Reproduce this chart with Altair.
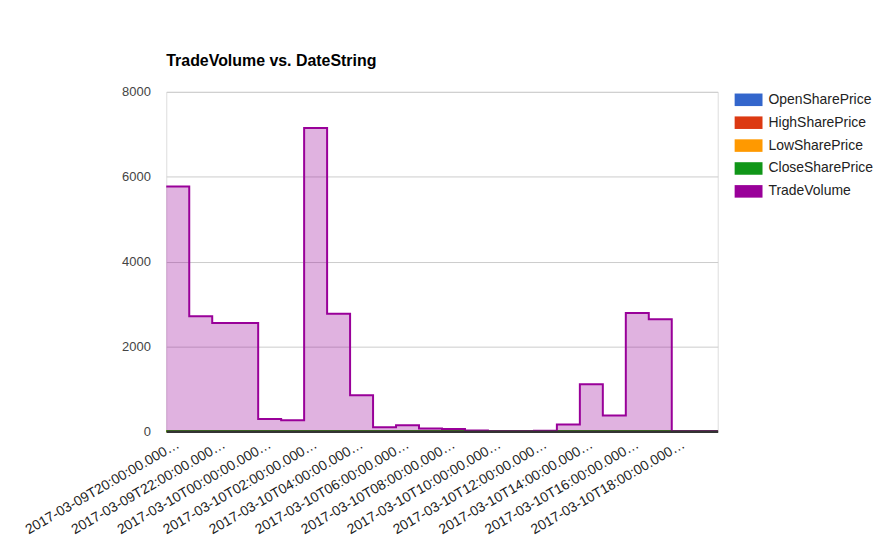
import altair as alt
import pandas as pd

dates = [
    "2017-03-09T20:00:00.000Z", "2017-03-09T21:00:00.000Z", "2017-03-09T22:00:00.000Z",
    "2017-03-09T23:00:00.000Z", "2017-03-10T00:00:00.000Z", "2017-03-10T01:00:00.000Z",
    "2017-03-10T02:00:00.000Z", "2017-03-10T03:00:00.000Z", "2017-03-10T04:00:00.000Z",
    "2017-03-10T05:00:00.000Z", "2017-03-10T06:00:00.000Z", "2017-03-10T07:00:00.000Z",
    "2017-03-10T08:00:00.000Z", "2017-03-10T09:00:00.000Z", "2017-03-10T10:00:00.000Z",
    "2017-03-10T11:00:00.000Z", "2017-03-10T12:00:00.000Z", "2017-03-10T13:00:00.000Z",
    "2017-03-10T14:00:00.000Z", "2017-03-10T15:00:00.000Z", "2017-03-10T16:00:00.000Z",
    "2017-03-10T17:00:00.000Z", "2017-03-10T18:00:00.000Z", "2017-03-10T19:00:00.000Z",
]

open_share_price = [1.21, 1.22, 1.20, 1.19, 1.19, 1.20, 1.20, 1.23, 1.22, 1.22, 1.22, 1.22,
                    1.22, 1.22, 1.22, 1.22, 1.22, 1.22, 1.21, 1.20, 1.20, 1.19, 1.19, 1.19]
high_share_price = [1.24, 1.23, 1.21, 1.20, 1.20, 1.20, 1.25, 1.24, 1.23, 1.22, 1.22, 1.22,
                    1.22, 1.22, 1.22, 1.22, 1.22, 1.22, 1.22, 1.21, 1.21, 1.20, 1.19, 1.19]
low_share_price = [1.19, 1.19, 1.19, 1.18, 1.18, 1.19, 1.19, 1.21, 1.21, 1.22, 1.22, 1.22,
                   1.22, 1.22, 1.22, 1.22, 1.22, 1.21, 1.19, 1.19, 1.18, 1.18, 1.19, 1.19]
close_share_price = [1.22, 1.20, 1.19, 1.19, 1.20, 1.20, 1.23, 1.22, 1.22, 1.22, 1.22, 1.22,
                     1.22, 1.22, 1.22, 1.22, 1.22, 1.21, 1.20, 1.20, 1.19, 1.19, 1.19, 1.19]
trade_volume = [5770, 2710, 2550, 2550, 290, 260, 7150, 2770, 850, 95, 140, 65,
                55, 20, 0, 0, 15, 160, 1110, 370, 2790, 2640, 0, 0]

series_names = ["OpenSharePrice", "HighSharePrice", "LowSharePrice",
                "CloseSharePrice", "TradeVolume"]
series_colors = ["#3366cc", "#dc3912", "#ff9900", "#109618", "#990099"]
y_ticks = [0, 2000, 4000, 6000, 8000]

series_values = [open_share_price, high_share_price, low_share_price,
                 close_share_price, trade_volume]
rows = []
for k, (name, vals) in enumerate(zip(series_names, series_values)):
    ext = list(vals) + [vals[-1]]
    for i, v in enumerate(ext):
        rows.append({"series": name, "pos": i, "value": v, "order": k})
df = pd.DataFrame(rows)

label_array = "[" + ",".join("'" + d[:23] + "\u2026'" for d in dates) + "]"
tick_positions = [i + 0.5 for i in range(0, len(dates), 2)]

FONT = "Liberation Sans"

x_enc = alt.X(
    "pos:Q",
    scale=alt.Scale(domain=[0, len(dates)], nice=False, zero=False),
    axis=alt.Axis(
        values=tick_positions,
        labelExpr=label_array + "[floor(datum.value)]",
        labelAngle=-30,
        labelAlign="right",
        labelBaseline="middle",
        labelPadding=12,
        labelFontSize=14,
        labelFont=FONT,
        labelColor="#222222",
        labelOverlap=False,
        labelLimit=400,
        ticks=False,
        grid=False,
        domainColor="#333333",
        domainWidth=2.6,
        zindex=2,
        title=None,
    ),
)
y_enc = alt.Y(
    "value:Q",
    scale=alt.Scale(domain=[0, 8000], nice=False),
    stack=None,
    axis=alt.Axis(
        values=y_ticks,
        format="d",
        labelFontSize=13,
        labelFont=FONT,
        labelColor="#444444",
        labelPadding=16,
        ticks=False,
        domain=False,
        gridColor="#cccccc",
        title=None,
    ),
)

area = alt.Chart(df).mark_area(interpolate="step-after", fillOpacity=0.3).encode(
    x=x_enc,
    y=y_enc,
    fill=alt.Fill(
        "series:N",
        scale=alt.Scale(domain=series_names, range=series_colors),
        sort=series_names,
        legend=alt.Legend(
            title=None,
            orient="none",
            legendX=571,
            legendY=-6,
            symbolType="M-1,-0.45H1V0.45H-1Z",
            symbolSize=784,
            symbolOpacity=1,
            symbolStrokeWidth=0,
            labelFontSize=14,
            labelFont=FONT,
            labelColor="#222222",
            labelOffset=6,
            rowPadding=2,
        ),
    ),
    order=alt.Order("order:Q"),
)

line = alt.Chart(df).mark_line(interpolate="step-after", strokeWidth=2).encode(
    x=alt.X("pos:Q"),
    y=alt.Y("value:Q"),
    stroke=alt.Stroke(
        "series:N",
        scale=alt.Scale(domain=series_names, range=series_colors),
        legend=None,
    ),
    detail="series:N",
    order=alt.Order("pos:Q"),
)

chart = alt.layer(area, line).properties(
    width=554,
    height=341,
    autosize=alt.AutoSizeParams(type="none"),
    padding={"left": 159, "top": 83, "right": 156, "bottom": 104},
    title=alt.TitleParams(
        "TradeVolume vs. DateString",
        anchor="start",
        frame="group",
        font=FONT,
        fontSize=16,
        fontWeight="bold",
        color="#000000",
        offset=17,
    ),
).configure_view(stroke=None).configure(background="white")

chart.save("out.html", embed_options={"renderer": "svg", "actions": False})
